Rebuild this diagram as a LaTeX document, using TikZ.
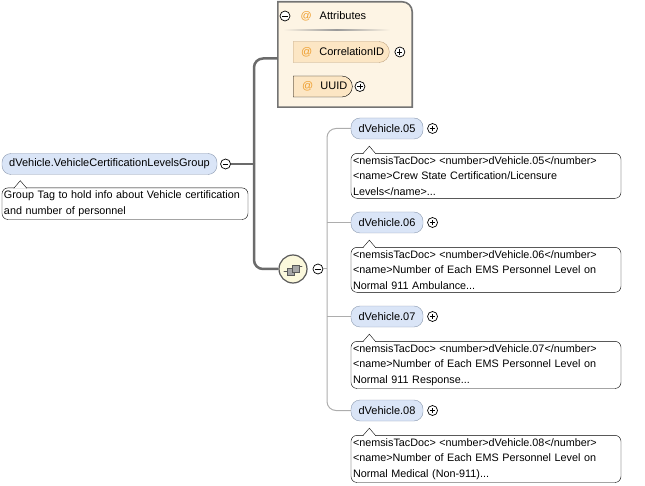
\documentclass[tikz,border=0pt]{standalone}
\usepackage{fontspec}
\setmainfont{Liberation Sans}
\usetikzlibrary{shapes.misc,positioning}

\definecolor{elemfill}{HTML}{DAE5F7}
\definecolor{elemline}{HTML}{8C9AB0}
\definecolor{attrbox}{HTML}{FDF4E4}
\definecolor{attrfill}{HTML}{FCE6C4}
\definecolor{attrline}{HTML}{BFA482}
\definecolor{atsign}{HTML}{EE9E2E}
\definecolor{seqfill}{HTML}{FBF8DC}

\begin{document}
\begin{tikzpicture}[x=1pt, y=-1pt,
    elem/.style={rectangle, draw=elemline, fill=elemfill, rounded corners=9pt, minimum height=21pt, inner xsep=6pt, font=\fontsize{11pt}{13pt}\selectfont},
    attr/.style={rounded rectangle, rounded rectangle left arc=none, draw=attrline, fill=attrfill, minimum height=21pt, inner xsep=4pt, font=\fontsize{11pt}{13pt}\selectfont},
    doc/.style={rectangle, draw, fill=white, rounded corners=6pt, align=left, inner xsep=2pt, inner ysep=3pt, font=\fontsize{10.8pt}{15.5pt}\selectfont},
    sign/.style={circle, draw, line width=0.7pt, fill=white, minimum size=10pt, inner sep=0pt},
    minus/.style={sign, path picture={\draw[line width=0.8pt] ([xshift=-2.6pt]path picture bounding box.center) -- ([xshift=2.6pt]path picture bounding box.center);}},
    plus/.style={sign, path picture={\draw[line width=0.8pt] ([xshift=-2.6pt]path picture bounding box.center) -- ([xshift=2.6pt]path picture bounding box.center) ([yshift=-2.6pt]path picture bounding box.center) -- ([yshift=2.6pt]path picture bounding box.center);}},
    seq/.style={circle, draw=black!65, line width=1.2pt, fill=seqfill, minimum size=28pt, inner sep=0pt,
        path picture={
            \begin{scope}[shift={(path picture bounding box.center)}, x=1pt, y=1pt, line width=0.6pt]
                \draw (-10,-2) -- (-5,-2) (5,3) -- (10,3);
                \fill (-10,-2) circle (1.1pt) (10,3) circle (1.1pt);
                \draw[fill=black!35] (-6,-6) rectangle (1,1);
                \draw[fill=black!35] (-1,-3) rectangle (6,4);
            \end{scope}}},
    notch/.style={fill=white, line width=0.4pt},
    main/.style={line width=2.5pt, draw=black!58, rounded corners=9pt},
    branch/.style={line width=1pt, draw=black!32, rounded corners=9pt}
]
\useasboundingbox (0,0) rectangle (645,486);

% Group element and its documentation
\node[elem, minimum width=215pt] (group) at (109.5,164) {dVehicle.VehicleCertificationLevelsGroup};
\node[minus, right=3pt of group] (groupm) {};
\node[doc, text width=242pt, below=13pt of group.south west, anchor=north west] (groupdoc) {Group Tag to hold info about Vehicle certification\\and number of personnel};
\draw[notch] ([xshift=12pt,yshift=-0.6pt]groupdoc.north west) -- ++(6.5pt,7.6pt) -- ++(6.5pt,-7.6pt);

% Attributes box
\node[minimum width=134pt, minimum height=105pt, inner sep=0pt] (attrs) at (345,54.5) {};
\draw[line width=1.6pt, draw=black!55, fill=attrbox] (attrs.south west) -- (attrs.north west) -- ([xshift=-10pt]attrs.north east) arc[start angle=90, end angle=0, radius=10pt] -- (attrs.south east) -- cycle;
\node[minus] (attrm) at (285,16) {};
\node[right=10pt of attrm, inner sep=0pt, font=\fontsize{11pt}{13pt}\selectfont] (attrhead) {{\color{atsign}@}\hspace{8pt}Attributes};
\shade[left color=attrbox, right color=attrbox, middle color=black!40] (283,29.5) rectangle (390,31);

\node[attr, anchor=west] (corrid) at (293,52) {\hspace{4pt}{\color{atsign}@}\hspace{7pt}CorrelationID};
\node[plus, right=5pt of corrid] (corridp) {};
\node[attr, draw=black, anchor=west] (uuid) at (293,86.5) {\hspace{5pt}{\color{atsign}@}\hspace{7pt}UUID};
\node[plus, right=2pt of uuid] (uuidp) {};

% Sequence with the four elements
\node[seq] (seq) at (293,269) {};
\node[minus, right=5pt of seq] (seqm) {};

\node[elem, minimum width=72pt] (d05) at (387,128.5) {dVehicle.05};
\node[plus, right=4pt of d05] (d05p) {};
\node[doc, text width=266pt, below=14pt of d05.south west, anchor=north west] (doc05) {<nemsisTacDoc> <number>dVehicle.05</number>\\<name>Crew State Certification/Licensure\\Levels</name>...};
\draw[notch] ([xshift=12pt,yshift=-0.6pt]doc05.north west) -- ++(6.5pt,7.6pt) -- ++(6.5pt,-7.6pt);

\node[elem, minimum width=72pt] (d06) at (387,222.5) {dVehicle.06};
\node[plus, right=4pt of d06] (d06p) {};
\node[doc, text width=266pt, below=14pt of d06.south west, anchor=north west] (doc06) {<nemsisTacDoc> <number>dVehicle.06</number>\\<name>Number of Each EMS Personnel Level on\\Normal 911 Ambulance...};
\draw[notch] ([xshift=12pt,yshift=-0.6pt]doc06.north west) -- ++(6.5pt,7.6pt) -- ++(6.5pt,-7.6pt);

\node[elem, minimum width=72pt] (d07) at (387,316.5) {dVehicle.07};
\node[plus, right=4pt of d07] (d07p) {};
\node[doc, text width=266pt, below=14pt of d07.south west, anchor=north west] (doc07) {<nemsisTacDoc> <number>dVehicle.07</number>\\<name>Number of Each EMS Personnel Level on\\Normal 911 Response...};
\draw[notch] ([xshift=12pt,yshift=-0.6pt]doc07.north west) -- ++(6.5pt,7.6pt) -- ++(6.5pt,-7.6pt);

\node[elem, minimum width=72pt] (d08) at (387,410.5) {dVehicle.08};
\node[plus, right=4pt of d08] (d08p) {};
\node[doc, text width=266pt, below=14pt of d08.south west, anchor=north west] (doc08) {<nemsisTacDoc> <number>dVehicle.08</number>\\<name>Number of Each EMS Personnel Level on\\Normal Medical (Non-911)...};
\draw[notch] ([xshift=12pt,yshift=-0.6pt]doc08.north west) -- ++(6.5pt,7.6pt) -- ++(6.5pt,-7.6pt);

% Connectors
\coordinate (fork) at (254,164);
\coordinate (spine) at (327,269);
\draw[main] (groupm) -- (fork);
\draw[main] (fork) |- ([yshift=-4pt]attrs.west);
\draw[main] (fork) |- (seq);
\draw[branch] (seqm) -- (spine);
\draw[branch] (spine) |- (d05);
\draw[branch] (spine |- d06) -- (d06);
\draw[branch] (spine |- d07) -- (d07);
\draw[branch] (spine) |- (d08);

\end{tikzpicture}
\end{document}
